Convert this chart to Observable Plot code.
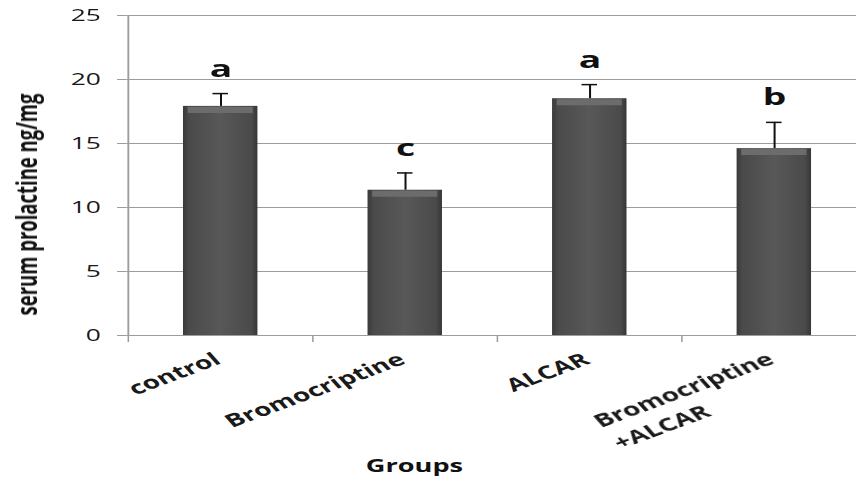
<!DOCTYPE html>
<html><head><meta charset="utf-8">
<script src="https://cdn.jsdelivr.net/npm/d3@7"></script>
<script src="https://cdn.jsdelivr.net/npm/@observablehq/plot@0.6"></script>
<style>
html,body{margin:0;padding:0;background:#fff;overflow:hidden;}
#wrap{transform-origin:0 0;width:552px;height:479px;}
</style></head><body>
<svg width="0" height="0" style="position:absolute">
<defs>
<linearGradient id="barGrad" x1="0" y1="0" x2="1" y2="0">
<stop offset="0" stop-color="#3a3a3a"/>
<stop offset="0.08" stop-color="#4a4a4a"/>
<stop offset="0.5" stop-color="#585858"/>
<stop offset="0.92" stop-color="#4a4a4a"/>
<stop offset="1" stop-color="#363636"/>
</linearGradient>
</defs></svg>
<div id="wrap"></div>
<script>
const groups = ["control", "Bromocriptine", "ALCAR", "Bromocriptine\n+ALCAR"];
const means = [17.9, 11.35, 18.5, 14.6];
const errors = [1.0, 1.35, 1.1, 2.05];
const letters = ["a", "c", "a", "b"];
const yTicks = [0, 5, 10, 15, 20, 25];
const yLabel = "serum prolactine ng/mg";
const xLabel = "Groups";

const data = groups.map((g, i) => ({group: g, mean: means[i], top: means[i] + errors[i], letter: letters[i]}));

const W = 552, H = 479, SX = 856 / W;
const xRange = [81.5, 559.5];
const step = (xRange[1] - xRange[0]) / groups.length;
const grid = "#9c9c9c";

const chart = Plot.plot({
  width: W, height: H,
  marginLeft: xRange[0], marginRight: 0, marginTop: 15, marginBottom: 144,
  style: {fontFamily: "'Open Sans', sans-serif", fontSize: "17px", color: "#1a1a1a", background: "white", overflow: "visible"},
  x: {domain: groups, range: xRange, paddingInner: 0.6, paddingOuter: 0.3, label: null},
  y: {domain: [0, 25], label: null},
  marks: [
    Plot.gridY(yTicks, {stroke: grid, strokeOpacity: 1, strokeWidth: 1.2}),
    Plot.axisY(yTicks, {tickSize: 6, tickPadding: 11, stroke: grid, fontSize: 17, label: null}),
    Plot.ruleX([groups[0]], {x: d => d, dx: -step / 2, stroke: grid, strokeWidth: 1.2}),
    Plot.axisX({tickSize: 7, fill: "none", dx: -step / 2, stroke: grid, label: null}),
    Plot.axisX({tickSize: 0, tickPadding: 12, tickRotate: -30, dx: -8, lineAnchor: "top", lineHeight: 1.4,
                fontWeight: "bold", fontSize: 18, label: null}),
    Plot.barY(data, {x: "group", y: "mean", fill: "url(#barGrad)"}),
    Plot.tickY(data, {x: "group", y: "mean", dy: 3.5, stroke: "#6c6c6c", strokeWidth: 6, insetLeft: 3, insetRight: 3}),
    Plot.ruleY([0], {stroke: grid, strokeWidth: 1.2}),
    Plot.ruleX(data, {x: "group", y1: "mean", y2: "top", stroke: "#111", strokeWidth: 1.3}),
    Plot.tickY(data, {x: "group", y: "top", stroke: "#111", strokeWidth: 1.5, inset: 19}),
    Plot.text(data, {x: "group", y: "top", text: "letter", dy: -17, lineAnchor: "bottom", fontSize: 24, fontWeight: "bold", fill: "#111"}),
    Plot.text([yLabel], {frameAnchor: "left", rotate: -90, textAnchor: "middle", lineAnchor: "middle", dx: -64, dy: 29,
                         fontSize: 18.5, fontWeight: "bold", fill: "#111"}),
    Plot.text([xLabel], {frameAnchor: "bottom", lineAnchor: "bottom", dx: -50, dy: 136, fontSize: 17.5, fontWeight: "bold", fill: "#111"})
  ]
});

const wrap = document.getElementById("wrap");
wrap.style.transform = `scaleX(${SX})`;
wrap.appendChild(chart);

// left-align the lines of multi-line tick labels (like the original)
chart.querySelectorAll('[aria-label="x-axis tick label"] text').forEach(t => {
  const spans = t.querySelectorAll("tspan");
  if (spans.length < 2) return;
  const lens = Array.from(spans, s => s.getComputedTextLength());
  const maxL = Math.max(...lens);
  spans.forEach((s, i) => s.setAttribute("x", -(maxL - lens[i])));
});
</script>
</body></html>
